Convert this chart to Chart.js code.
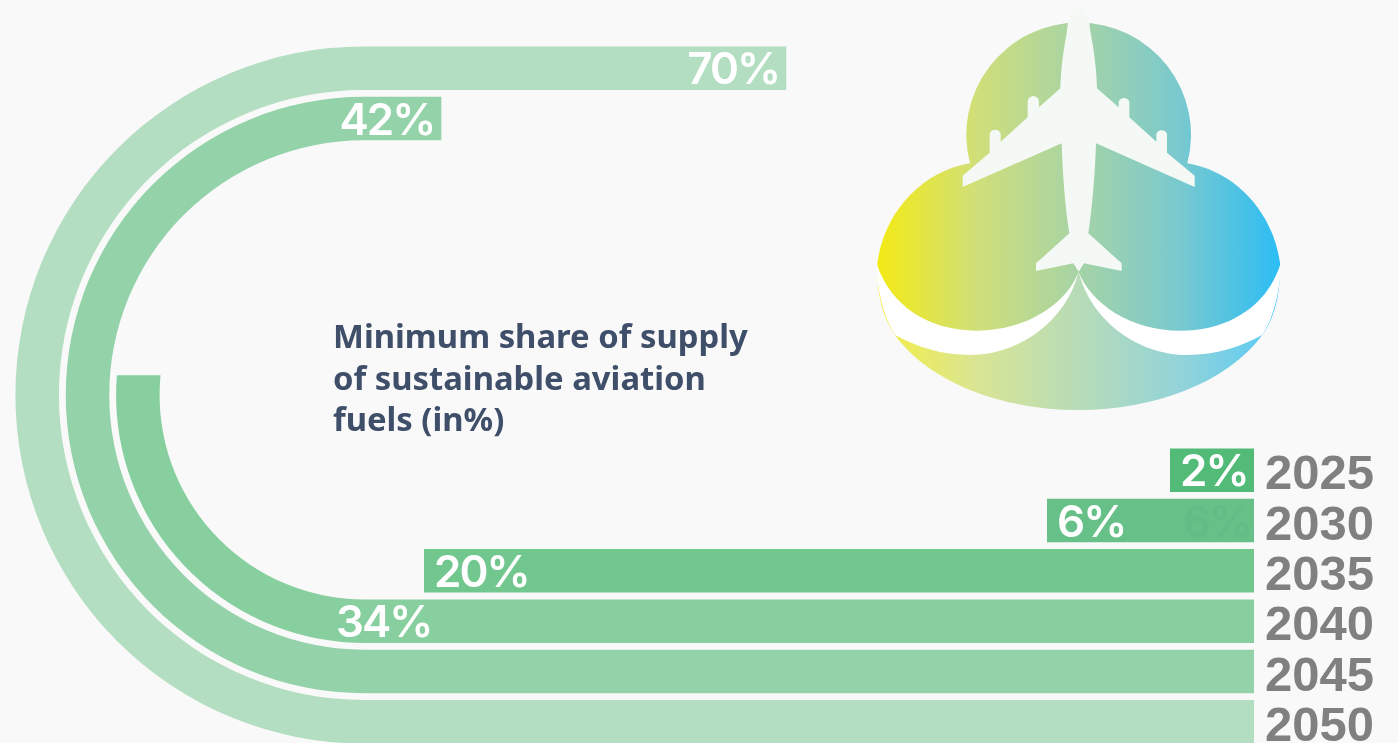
<!DOCTYPE html>
<html>
<head>
<meta charset="utf-8">
<script src="https://cdn.jsdelivr.net/npm/chart.js@4"></script>
<style>
html,body{margin:0;padding:0;width:1398px;height:743px;overflow:hidden;background:#f9f9f9}
#wrap{position:relative;width:1398px;height:743px;overflow:hidden}
canvas{position:absolute;left:0;top:0}
#icon{position:absolute;left:860px;top:0;width:440px;height:420px}
#title{position:absolute;left:333px;top:315px;font:700 32.8px/41.5px "Noto Sans",sans-serif;color:#3f4f69;white-space:pre;}
</style>
</head>
<body>
<div id="wrap">
<svg id="icon" viewBox="0 0 1320 1260" xmlns="http://www.w3.org/2000/svg">
  <defs>
    <linearGradient id="g" x1="50" x2="1262" y1="0" y2="0" gradientUnits="userSpaceOnUse">
      <stop offset="0" stop-color="#f4ea14"/>
      <stop offset="0.25" stop-color="#cfdf7a"/>
      <stop offset="0.5" stop-color="#a6d3a6"/>
      <stop offset="0.75" stop-color="#79c9cf"/>
      <stop offset="1" stop-color="#2cbdf5"/>
    </linearGradient>
  </defs>
  <path fill="url(#g)" d="M330,490 A337,337 0 1 1 982,490 C1130,515 1240,640 1260,790 C1262,880 1245,950 1207,1005 C1100,1150 880,1230 656,1230 C430,1230 210,1150 105,1005 C67,950 50,880 52,790 C72,640 182,515 330,490 Z"/>
  <path fill="#fff" opacity="0.2" d="M105,1005 C170,1040 240,1065 330,1065 C480,1065 620,960 656,815 C692,960 832,1065 982,1065 C1072,1065 1142,1040 1207,1005 C1100,1150 880,1230 656,1230 C430,1230 210,1150 105,1005 Z"/>
  <path fill="#fff" d="M50,790 C90,920 210,992 350,992 C500,992 620,910 656,815 C620,960 480,1065 330,1065 C240,1065 170,1040 105,1005 C70,950 50,870 50,790 Z"/>
  <path fill="#fff" d="M1262,790 C1222,920 1102,992 962,992 C812,992 692,910 656,815 C692,960 832,1065 982,1065 C1072,1065 1142,1040 1207,1005 C1242,950 1262,870 1262,790 Z"/>
  <path fill="#f5f9f5" d="M656,20 C630,25 625,60 620,100 C605,180 602,230 601,265 L537,322 L537,305 A17,17 0 0 0 503,305 L503,352 L422,425 L422,402 A17,17 0 0 0 389,402 L389,458 L308,527 L308,561 L605,430 C608,520 615,620 628,700 L528,790 L528,813 L640,790 L656,815 L672,790 L785,813 L785,790 L685,700 C697,620 705,520 708,430 L1004,561 L1004,527 L921,458 L921,402 A17,17 0 0 0 889,402 L889,425 L808,352 L808,305 A17,17 0 0 0 776,305 L776,322 L711,265 C710,230 707,180 692,100 C688,60 682,25 656,20 Z"/>
</svg>
<canvas id="c" width="1398" height="751"></canvas>
<div id="title">Minimum share of supply
of sustainable aviation
fuels (in%)</div>
</div>
<script>
// ---- data ----
const years = ['2025', '2030', '2035', '2040', '2045', '2050'];
const minimumShare = [2, 6, 20, 34, 42, 70];
const barColors = ['#52bb78', '#66c088', '#72c78f', '#88cf9f', '#94d2aa', '#b3dec1'];
const faintRepeat = [null, 6, null, null, null, null];

// The reference is not drawn to scale, so the value axis is calibrated piecewise.
const axisStops = [0, 2, 6, 20, 34, 42, 70];
const axisTravel = [0, 84, 207, 830, 1265, 1836, 2339];

class TrackScale extends Chart.LinearScale {
  static id = 'track';
  static defaults = Chart.LinearScale.defaults;
  getPixelForValue(v) {
    const s = axisStops, t = axisTravel;
    let i = 1;
    while (i < s.length - 1 && v > s[i]) i++;
    const f = (v - s[i - 1]) / (s[i] - s[i - 1]);
    return this.right - (t[i - 1] + f * (t[i] - t[i - 1]));
  }
}

const turn = { cx: 364, cy: 395 };
const labelFont = '600 44px Inter, sans-serif';

class RacetrackController extends Chart.BarController {
  static id = 'racetrack';
  static defaults = Chart.BarController.defaults;
  static overrides = Chart.BarController.overrides;
  draw() {
    const ctx = this.chart.ctx;
    const els = this._cachedMeta.data;
    const ds = this.getDataset();
    const { cx, cy } = turn;
    const labels = [];
    els.forEach((el, i) => {
      const { x: head, y, height: h, base } = el.getProps(['x', 'y', 'height', 'base'], true);
      const over = cx - head;
      ctx.beginPath();
      ctx.fillStyle = ds.backgroundColor[i];
      const text = ds.data[i] + '%';
      if (over <= 0) {
        ctx.rect(head, y - h / 2, base - head, h);
        labels.push({ text, x: head + 10, y, align: 'left' });
      } else {
        const r = y - cy, r0 = r - h / 2, r1 = r + h / 2;
        const theta = Math.min(Math.PI, over / r);
        const topRun = Math.max(0, over - Math.PI * r);
        const a0 = Math.PI / 2;
        ctx.moveTo(base, y - h / 2);
        ctx.lineTo(cx, y - h / 2);
        if (topRun > 0) {
          ctx.arc(cx, cy, r0, a0, a0 + Math.PI);
          ctx.lineTo(cx + topRun, cy - r0);
          ctx.lineTo(cx + topRun, cy - r1);
          ctx.lineTo(cx, cy - r1);
          ctx.arc(cx, cy, r1, a0 + Math.PI, a0, true);
          labels.push({ text, x: cx + topRun - 7, y: cy - r, align: 'right' });
        } else {
          // the tip on the bend is cut level, as in the reference
          const rise = -r * Math.sin(a0 + theta);
          const tipInner = Math.PI + Math.asin(rise / r0);
          const tipOuter = Math.PI + Math.asin(rise / r1);
          ctx.arc(cx, cy, r0, a0, tipInner);
          ctx.arc(cx, cy, r1, tipOuter, a0, true);
          labels.push({ text, x: cx - 28, y, align: 'left' });
        }
        ctx.lineTo(base, y + h / 2);
        ctx.closePath();
      }
      ctx.fill();
      if (faintRepeat[i] !== null) {
        labels.push({ text: faintRepeat[i] + '%', x: base - 3, y, align: 'right', color: 'rgba(0,90,50,0.035)' });
      }
    });
    ctx.save();
    ctx.font = labelFont;
    ctx.letterSpacing = '-2px';
    ctx.textBaseline = 'alphabetic';
    labels.forEach(l => {
      ctx.fillStyle = l.color || '#ffffff';
      ctx.textAlign = l.align;
      ctx.fillText(l.text, l.x, l.y + 16);
    });
    ctx.restore();
  }
}
Chart.register(TrackScale, RacetrackController);

new Chart(document.getElementById('c'), {
  type: 'racetrack',
  data: {
    labels: years,
    datasets: [{
      label: 'Minimum share of supply of sustainable aviation fuels (in%)',
      data: minimumShare,
      backgroundColor: barColors,
      barThickness: 43.5,
      clip: false
    }]
  },
  options: {
    indexAxis: 'y',
    responsive: false,
    animation: false,
    layout: { padding: { top: 445, bottom: 4, left: 0, right: 0 } },
    plugins: { legend: { display: false }, tooltip: { enabled: false } },
    scales: {
      x: { type: 'track', min: 0, max: 70, display: false },
      y: {
        type: 'category',
        position: 'right',
        afterFit: s => { s.width = 144; s.paddingTop = 0; s.paddingBottom = 0; },
        grid: { display: false, drawTicks: false },
        border: { display: false },
        ticks: {
          autoSkip: false,
          color: '#808080',
          padding: 11,
          labelOffset: 5.5,
          font: { family: '"Liberation Sans", sans-serif', weight: 'bold', size: 49 }
        }
      }
    }
  }
});
</script>
</body>
</html>
